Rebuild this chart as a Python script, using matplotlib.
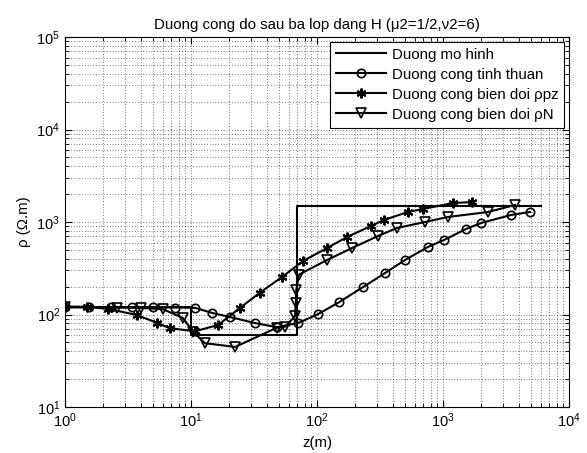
import matplotlib
matplotlib.use('Agg')
import matplotlib.pyplot as plt

plt.rcParams['font.family'] = ['Liberation Sans', 'DejaVu Sans']
plt.rcParams['mathtext.fontset'] = 'custom'
plt.rcParams['mathtext.rm'] = 'Liberation Sans'

# mo hinh 3 lop H: rho1=120, rho2=60, rho3=1500, h1=10, h2=60
z_model = [1, 10, 10, 70, 70, 6000]
rho_model = [120, 120, 60, 60, 1500, 1500]

# duong cong tinh thuan (o)
z_tt = [1, 1.55, 2.3, 3.4, 5.0, 7.4, 10.8, 14.7, 20.4, 32, 48, 71, 102, 150,
        232, 347, 499, 760, 1019, 1523, 2003, 3466, 4900]
rho_tt = [120, 120, 120, 120, 120, 119, 118, 104, 94, 81, 73, 81, 101, 136,
          198, 281, 388, 537, 639, 840, 975, 1191, 1283]

# duong cong bien doi rho_pz (*)
z_pz = [1, 1.5, 2.2, 3.7, 5.4, 6.8, 10.8, 16.4, 24.5, 35, 52.7, 77.4, 120,
        173, 268, 340, 527, 693, 1200, 1700]
rho_pz = [122, 121, 115, 99, 81, 71, 66, 77, 118, 171, 254, 378, 523,
          688, 906, 1052, 1283, 1383, 1604, 1643]

# duong cong bien doi rho_N (v)
z_pn = [1, 2.6, 4, 6, 8.6, 10.4, 12.9, 22.4, 48, 56, 67, 68, 68.5, 72, 120,
        190, 305, 431, 719, 1096, 2275, 3728]
rho_pn = [120, 119, 118, 114, 92, 65, 49, 44.6, 72, 74, 96, 133, 185, 270, 388,
          524, 706, 861, 1000, 1133, 1283, 1527]

fig = plt.figure(figsize=(5.87, 4.53), dpi=100)
ax = fig.add_axes([0.1107, 0.1015, 0.8586, 0.8168])

lw = 1.5
ax.loglog(z_model, rho_model, color='k', lw=lw, label='Duong mo hinh')
ax.loglog(z_tt, rho_tt, color='k', lw=lw, marker='o', ms=6, mfc='none',
          mew=1.2, label='Duong cong tinh thuan')
ax.loglog(z_pz, rho_pz, color='k', lw=lw, marker=(6, 2, 0), ms=7,
          mew=1.5, label='Duong cong bien doi ρpz')
ax.loglog(z_pn, rho_pn, color='k', lw=lw, marker='v', ms=7, mfc='none',
          mew=1.2, label='Duong cong bien doi ρN')

ax.set_xlim(1, 1e4)
ax.set_ylim(10, 1e5)
ax.grid(True, which='both', color='k', lw=0.5, linestyle=(0, (1, 3)))
ax.tick_params(which='both', direction='in', top=True, right=True,
               labelsize=10.5)
ax.tick_params(which='major', length=5)
ax.tick_params(which='minor', length=3)

ax.set_title('Duong cong do sau ba lop dang H (μ2=1/2,ν2=6)', fontsize=10.8)
ax.set_xlabel('z(m)', fontsize=10.8)
ax.set_ylabel('ρ (Ω.m)', fontsize=10.8)

leg = ax.legend(loc='upper right', fontsize=10.8, fancybox=False,
                framealpha=1, edgecolor='k', handlelength=3.3,
                borderaxespad=0.3, handletextpad=0.4, labelspacing=0.4)
leg.get_frame().set_linewidth(0.8)

fig.savefig('out.png', dpi=100)
